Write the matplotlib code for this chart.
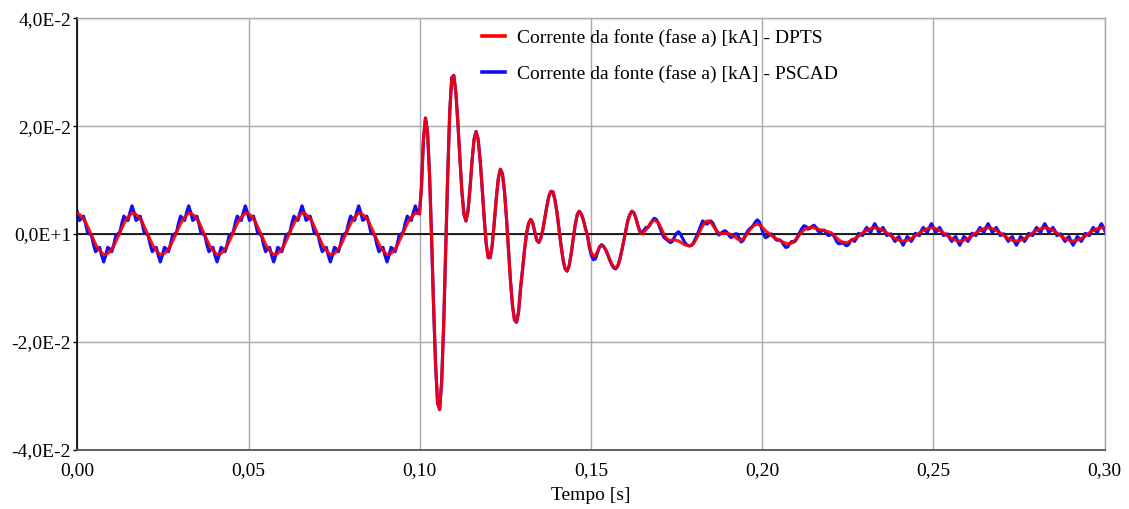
import numpy as np
import matplotlib
matplotlib.use("Agg")
import matplotlib.pyplot as plt
from matplotlib.ticker import FixedLocator, FixedFormatter

plt.rcParams['font.family'] = ['Liberation Serif', 'DejaVu Serif']

# ---- data -----------------------------------------------------------------
# uniform sampling of both traces (time of first sample, step), seconds
T_START = -0.00057
T_STEP = 0.00059107
UNIT = 1e-4  # values below are in units of 1e-4 kA

# DPTS (red) - pre-fault part
red_pre = [
    38, 38, 36, 33, 28, 22, 14, 6, -3, -11, -19, -26, -31, -35, -38, -38, -36, -33, -28, -22, -14, -6, 3, 11, 19, 26, 31, 35,
    38, 38, 36, 33, 28, 22, 14, 6, -3, -11, -19, -26, -31, -35, -38, -38, -36, -33, -28, -22, -14, -6, 3, 11, 19, 26, 31, 35,
    38, 38, 36, 33, 28, 22, 14, 6, -3, -11, -19, -26, -31, -35, -38, -38, -36, -33, -28, -22, -14, -6, 3, 11, 19, 26, 31, 35,
    38, 38, 36, 33, 28, 22, 14, 6, -3, -11, -19, -26, -31, -35, -38, -38, -36, -33, -28, -22, -14, -6, 3, 11, 19, 26, 31, 35,
    38, 38, 36, 33, 28, 22, 14, 6, -3, -11, -19, -26, -31, -35, -38, -38, -36, -33, -28, -22, -14, -6, 3, 11, 19, 26, 31, 35,
    38, 38, 36, 33, 28, 22, 14, 6, -3, -11, -19, -26, -31, -35, -38, -38, -36, -33, -28, -22, -14, -6, 3, 11, 19, 26, 31, 35,
    38, 38, 38,
]
# PSCAD (blue) - pre-fault part
blue_pre = [
    52, 40, 25, 28, 33, 20, 3, 0, -3, -20, -33, -28, -25, -40, -52, -40, -25, -28, -33, -20, -3, 0, 3, 20, 33, 28, 25, 40,
    52, 40, 25, 28, 33, 20, 3, 0, -3, -20, -33, -28, -25, -40, -52, -40, -25, -28, -33, -20, -3, 0, 3, 20, 33, 28, 25, 40,
    52, 40, 25, 28, 33, 20, 3, 0, -3, -20, -33, -28, -25, -40, -52, -40, -25, -28, -33, -20, -3, 0, 3, 20, 33, 28, 25, 40,
    52, 40, 25, 28, 33, 20, 3, 0, -3, -20, -33, -28, -25, -40, -52, -40, -25, -28, -33, -20, -3, 0, 3, 20, 33, 28, 25, 40,
    52, 40, 25, 28, 33, 20, 3, 0, -3, -20, -33, -28, -25, -40, -52, -40, -25, -28, -33, -20, -3, 0, 3, 20, 33, 28, 25, 40,
    52, 40, 25, 28, 33, 20, 3, 0, -3, -20, -33, -28, -25, -40, -52, -40, -25, -28, -33, -20, -3, 0, 3, 20, 33, 28, 25, 40,
    52, 40, 37,
]
# transient part
red_tr = [
    85, 175, 215, 190, 111, -5, -133, -243, -314, -326,
    -274, -168, -31, 111, 227, 290, 294, 263, 207, 141,
    79, 37, 24, 42, 84, 135, 175, 190, 176, 138,
    86, 30, -18, -44, -44, -20, 21, 66, 103, 120,
    112, 81, 31, -29, -87, -133, -160, -164, -145, -100,
    -65, -28, 2, 20, 27, 20, 4, -12, -16, -8,
    8, 30, 52, 70, 79, 78, 63, 39, 9, -22,
    -48, -65, -69, -59, -37, -9, 17, 36, 42, 37,
    26, 11, -2, -23, -35, -41, -40, -33, -24, -22,
    -24, -29, -37, -47, -55, -61, -63, -59, -48, -31,
    -12, 7, 25, 36, 42, 39, 29, 15, 4, 0,
    4, 8, 13, 19, 23, 25, 24, 21, 14, 6,
    -2, -8, -11, -12, -11, -11, -12, -13, -15, -18,
    -20, -21, -22, -22, -20, -15, -8, 0, 8, 15,
    21, 24, 24, 21, 16, 10, 5, 2, 1, 1,
    1, 1, 0, -1, -3, -6, -9, -11, -11, -9,
    -5, 0, 6, 11, 15, 17, 18, 17, 14, 10,
    6, 3, 0, -3, -6, -8, -10, -12, -14, -16,
    -17, -18, -18, -17, -14, -10, -6, -1, 3, 7,
    10, 11, 12, 12, 11, 10, 9, 8, 7, 6,
    5, 4, 3, 0, -3, -7, -10, -13, -15, -16,
    -16, -15, -13, -11,
]
blue_tr = [
    85, 175, 215, 190, 111, -5, -133, -243, -314, -326,
    -274, -168, -31, 111, 227, 290, 294, 263, 207, 141,
    79, 37, 24, 42, 84, 135, 175, 190, 176, 138,
    86, 30, -18, -44, -44, -20, 21, 66, 103, 120,
    112, 81, 31, -29, -87, -133, -160, -164, -145, -100,
    -65, -28, 2, 20, 27, 20, 4, -12, -16, -8,
    8, 30, 52, 70, 79, 78, 63, 39, 9, -22,
    -48, -65, -69, -59, -37, -9, 17, 36, 42, 37,
    26, 11, -2, -25, -40, -48, -46, -35, -24, -20,
    -23, -29, -38, -48, -57, -63, -65, -60, -48, -31,
    -12, 7, 25, 36, 42, 39, 29, 15, 4, 3,
    7, 12, 12, 17, 24, 29, 27, 20, 10, 0,
    -7, -10, -13, -16, -14, -6, 1, 4, 0, -8,
    -15, -20, -22, -22, -19, -12, -4, 5, 15, 24,
    21, 18, 21, 24, 20, 12, 4, -2, 1, 4,
    6, 3, -3, -7, -4, 0, 0, -8, -15, -12,
    -3, 4, 9, 12, 16, 22, 26, 22, 11, 0,
    -7, -5, -2, 0, -4, -10, -12, -11, -14, -20,
    -25, -24, -18, -14, -15, -12, -4, 3, 10, 15,
    14, 9, 10, 14, 16, 12, 5, 3, 6, 7,
    2, -3, -2, 0, -5, -13, -18, -18, -16, -19,
    -22, -20, -13, -10,
]
# post-fault part
red_post = [
    -9, -6, -4, -1, 2, 4, 7, 8, 10, 11,
    11, 11, 10, 8, 7, 4, 2, -1, -4, -6, -9, -10, -12, -13, -13, -13, -12, -10, -9, -6, -4, -1, 2, 4, 7, 8, 10, 11,
    11, 11, 10, 8, 7, 4, 2, -1, -4, -6, -9, -10, -12, -13, -13, -13, -12, -10, -9, -6, -4, -1, 2, 4, 7, 8, 10, 11,
    11, 11, 10, 8, 7, 4, 2, -1, -4, -6, -9, -10, -12, -13, -13, -13, -12, -10, -9, -6, -4, -1, 2, 4, 7, 8, 10, 11,
    11, 11, 10, 8, 7, 4, 2, -1, -4, -6, -9, -10, -12, -13, -13, -13, -12, -10, -9, -6, -4, -1, 2, 4, 7, 8, 10, 11,
    11, 11, 10,
]
blue_post = [
    -14, -8, 1, -1, -3, 6, 12, 6, 3, 12,
    19, 12, 3, 6, 12, 6, -3, -1, 0, -8, -14, -8, -5, -14, -21, -14, -5, -8, -14, -8, 1, -1, -3, 6, 12, 6, 3, 12,
    19, 12, 3, 6, 12, 6, -3, -1, 0, -8, -14, -8, -5, -14, -21, -14, -5, -8, -14, -8, 1, -1, -3, 6, 12, 6, 3, 12,
    19, 12, 3, 6, 12, 6, -3, -1, 0, -8, -14, -8, -5, -14, -21, -14, -5, -8, -14, -8, 1, -1, -3, 6, 12, 6, 3, 12,
    19, 12, 3, 6, 12, 6, -3, -1, 0, -8, -14, -8, -5, -14, -21, -14, -5, -8, -14, -8, 1, -1, -3, 6, 12, 6, 3, 12,
    19, 12, 3,
]

x_ticks = [0.00, 0.05, 0.10, 0.15, 0.20, 0.25, 0.30]
x_tick_labels = ["0,00", "0,05", "0,10", "0,15", "0,20", "0,25", "0,30"]
y_ticks = [-0.04, -0.02, 0.0, 0.02, 0.04]
y_tick_labels = ["-4,0E-2", "-2,0E-2", "0,0E+1", "2,0E-2", "4,0E-2"]
label_red = "Corrente da fonte (fase a) [kA] - DPTS"
label_blue = "Corrente da fonte (fase a) [kA] - PSCAD"
x_label = "Tempo [s]"

# ---- build series ----------------------------------------------------------
red = np.array(red_pre + red_tr + red_post, dtype=float) * UNIT
blue = np.array(blue_pre + blue_tr + blue_post, dtype=float) * UNIT
t_red = T_START + T_STEP * np.arange(len(red))
t_blue = T_START + T_STEP * np.arange(len(blue))

# ---- figure ----------------------------------------------------------------
fig = plt.figure(figsize=(11.29, 5.09), dpi=100)
ax = fig.add_axes([77.3 / 1129, 1 - 449.5 / 509, (1104.5 - 77.3) / 1129, (449.5 - 18.3) / 509])

ax.set_xlim(0, 0.30)
ax.set_ylim(-0.04, 0.04)

ax.xaxis.set_major_locator(FixedLocator(x_ticks))
ax.xaxis.set_major_formatter(FixedFormatter(x_tick_labels))
ax.yaxis.set_major_locator(FixedLocator(y_ticks))
ax.yaxis.set_major_formatter(FixedFormatter(y_tick_labels))

ax.grid(True, color='#a8a8a8', linewidth=1.0)
ax.set_axisbelow(True)
ax.axhline(0, color='black', linewidth=1.2, zorder=1.5)

l_blue, = ax.plot(t_blue, blue, color='#1010f0', linewidth=2.3, zorder=2, solid_joinstyle='round')
l_red, = ax.plot(t_red, red, color='#ff0000', linewidth=2.2, alpha=0.9, zorder=3, solid_joinstyle='round')

for s in ['top', 'right']:
    ax.spines[s].set_color('#a8a8a8')
    ax.spines[s].set_linewidth(1.0)
ax.spines['left'].set_color('black')
ax.spines['left'].set_linewidth(1.2)
ax.spines['bottom'].set_color('#555555')
ax.spines['bottom'].set_linewidth(1.3)

ax.tick_params(axis='y', direction='out', length=3, width=1, colors='black', pad=1.5, labelsize=14)
ax.tick_params(axis='x', length=0, pad=9, labelsize=14)
ax.set_xlabel(x_label, fontsize=14, labelpad=6)

leg = ax.legend([l_red, l_blue], [label_red, label_blue], loc='upper left',
                bbox_to_anchor=(0.3937, 0.976), frameon=False, fontsize=14,
                handlelength=1.2, handletextpad=0.6, labelspacing=0.95,
                borderpad=0, borderaxespad=0)
for h in leg.legend_handles:
    h.set_alpha(1.0)
    h.set_linewidth(2.6)

fig.savefig("out.png", dpi=100)
